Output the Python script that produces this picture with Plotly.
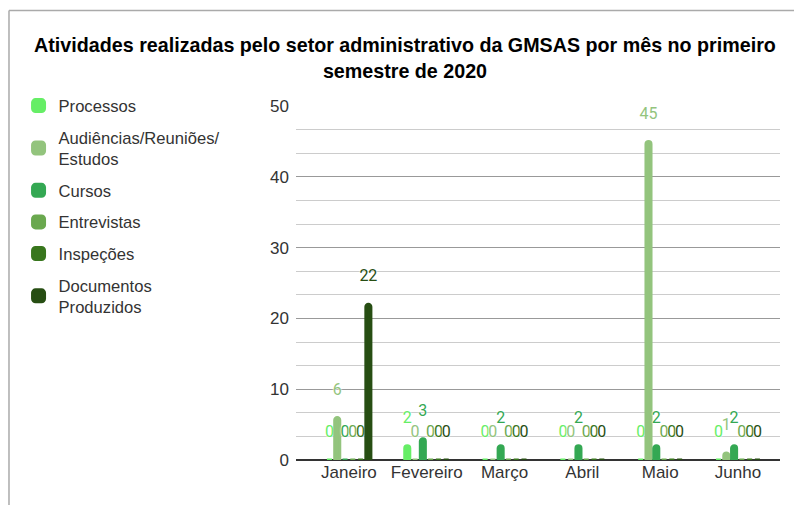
import plotly.graph_objects as go

months = ["Janeiro", "Fevereiro", "Março", "Abril", "Maio", "Junho"]
processos = [0, 2, 0, 0, 0, 0]
audiencias = [6, 0, 0, 0, 45, 1]
cursos = [0, 3, 2, 2, 2, 2]
entrevistas = [0, 0, 0, 0, 0, 0]
inspecoes = [0, 0, 0, 0, 0, 0]
documentos = [22, 0, 0, 0, 0, 0]

series = [
    ("Processos", processos, "#66ee66"),
    ("Audiências/Reuniões/<br>Estudos", audiencias, "#93c47d"),
    ("Cursos", cursos, "#34a853"),
    ("Entrevistas", entrevistas, "#6aa84f"),
    ("Inspeções", inspecoes, "#38761d"),
    ("Documentos<br>Produzidos", documentos, "#274e13"),
]

fig = go.Figure()
for i, (name, vals, color) in enumerate(series):
    fig.add_trace(go.Bar(
        x=months, y=vals, name=name, legendgroup=f"g{i}",
        marker=dict(color=color, line=dict(color=color, width=3)),
        text=vals, texttemplate="%{y}<br><span style='font-size:9px'> </span>",
        textposition="outside", constraintext="none", cliponaxis=False,
        textfont=dict(color=color, size=16, family="Roboto, Arial, sans-serif",
                      shadow="0 0 2px white, 0 0 2px white"),
    ))

# page body adds ~8px offset, margins compensate
fig.update_layout(
    width=802, height=505,
    paper_bgcolor="white", plot_bgcolor="white",
    font=dict(family="Liberation Sans, Arial, sans-serif", color="#333", size=17),
    title=dict(
        text="<b>Atividades realizadas pelo setor administrativo da GMSAS por mês no primeiro<br>semestre de 2020</b>",
        x=0.495, xanchor="center", y=0.912, yanchor="middle",
        font=dict(size=19.7, color="#000", family="Liberation Sans, Arial, sans-serif"),
    ),
    barmode="group", bargap=0.4, bargroupgap=0.35, barcornerradius=3,
    margin=dict(l=287, r=30, t=98, b=53),
    legend=dict(x=-0.57, y=1.05, xanchor="left", yanchor="top",
                font=dict(size=16.6, color="#333"), tracegroupgap=7,
                itemwidth=30, maxheight=450),
    showlegend=True,
)
fig.update_yaxes(range=[0, 50], dtick=10, showgrid=True, gridcolor="#999", gridwidth=1,
                 minor=dict(dtick=10/3, showgrid=True, gridcolor="#ccc", gridwidth=1),
                 zeroline=True, zerolinecolor="#333", zerolinewidth=1.5,
                 tickfont=dict(size=17, color="#333"), ticks="", fixedrange=True,
                 ticklabelstandoff=6)
fig.update_xaxes(tickfont=dict(size=17, color="#333"), showline=False,
                 range=[-0.68, 5.54])

# outer frame
fig.add_shape(type="line", xref="paper", yref="paper", x0=-0.593, x1=1.1, y0=1.27, y1=1.27,
              line=dict(color="#aaa", width=1.5))
fig.add_shape(type="line", xref="paper", yref="paper", x0=-0.593, x1=-0.593, y0=1.27, y1=-0.2,
              line=dict(color="#aaa", width=1.5))

fig.write_html("out.html")
